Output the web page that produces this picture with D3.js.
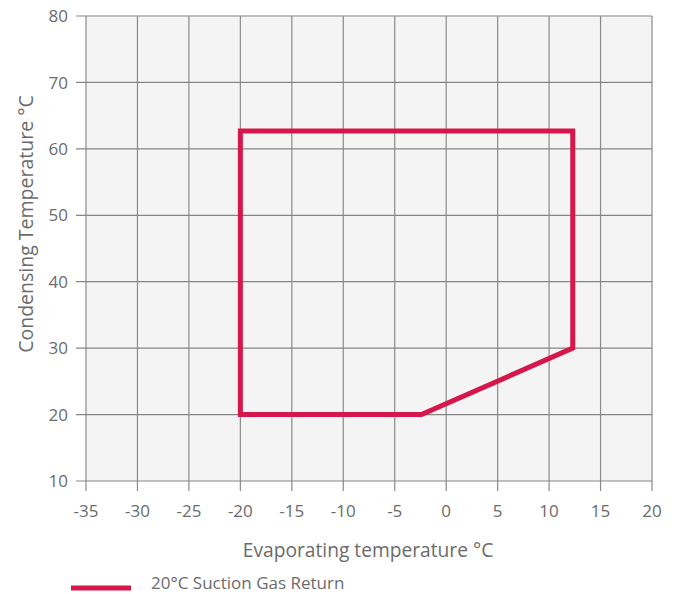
<!DOCTYPE html>
<html>
<head>
<meta charset="utf-8" />
<title>Operating envelope</title>
<style>
  body { margin: 0; background: #fff; }
  text { font-family: "Open Sans", "Noto Sans", sans-serif; fill: #6b6b6b; }
</style>
</head>
<body>
<script src="https://cdn.jsdelivr.net/npm/d3@7"></script>
<script>

    // envelope points (evaporating, condensing)
    var evapTemps = [-20, -20, 12.3, 12.3, -2.4];
    var condTemps = [20, 62.7, 62.7, 30, 20];

    var xTicks = [-35, -30, -25, -20, -15, -10, -5, 0, 5, 10, 15, 20];
    var yTicks = [10, 20, 30, 40, 50, 60, 70, 80];

    var seriesName = "20°C Suction Gas Return";
    var xTitle = "Evaporating temperature °C";
    var yTitle = "Condensing Temperature °C";

    var width = 678, height = 594;
    var margin = {left: 86, right: 26, top: 16, bottom: 113};
    var red = "#d5174b";

    var svg = d3.select("body").append("svg")
                .attr("width", width)
                .attr("height", height);

    var x = d3.scaleLinear()
              .domain([-35, 20])
              .range([margin.left, width - margin.right]);

    var y = d3.scaleLinear()
              .domain([10, 80])
              .range([height - margin.bottom, margin.top]);

    svg.append("rect")
       .attr("x", x(-35))
       .attr("y", y(80))
       .attr("width", x(20) - x(-35))
       .attr("height", y(10) - y(80))
       .attr("fill", "#f4f4f4");

    // grid
    svg.append("g")
       .selectAll("line")
       .data(xTicks)
       .enter()
       .append("line")
       .attr("x1", d => x(d)).attr("x2", d => x(d))
       .attr("y1", y(80)).attr("y2", y(10) + 10)
       .attr("stroke", "#8a8a8a")
       .attr("stroke-width", 1.2);

    svg.append("g")
       .selectAll("line")
       .data(yTicks)
       .enter()
       .append("line")
       .attr("y1", d => y(d)).attr("y2", d => y(d))
       .attr("x1", x(-35) - 10).attr("x2", x(20))
       .attr("stroke", "#858585")
       .attr("stroke-width", 1.2);

    // tick labels
    svg.append("g")
       .selectAll("text")
       .data(xTicks)
       .enter()
       .append("text")
       .attr("x", d => x(d))
       .attr("y", y(10) + 36)
       .attr("text-anchor", "middle")
       .style("font-size", "17px")
       .text(d => d);

    svg.append("g")
       .selectAll("text")
       .data(yTicks)
       .enter()
       .append("text")
       .attr("x", x(-35) - 18)
       .attr("y", d => y(d))
       .attr("dy", "0.36em")
       .attr("text-anchor", "end")
       .style("font-size", "17px")
       .text(d => d);

    // axis titles
    svg.append("text")
       .attr("x", 368)
       .attr("y", 557)
       .attr("text-anchor", "middle")
       .style("font-size", "19.2px")
       .text(xTitle);

    svg.append("text")
       .attr("transform", "translate(33,224) rotate(-90)")
       .attr("text-anchor", "middle")
       .style("font-size", "19.5px")
       .text(yTitle);

    // envelope
    var pts = evapTemps.map((d, i) => [d, condTemps[i]]);
    var line = d3.line()
                 .x(d => x(d[0]))
                 .y(d => y(d[1]))
                 .curve(d3.curveLinearClosed);

    svg.append("path")
       .attr("d", line(pts))
       .attr("fill", "none")
       .attr("stroke", red)
       .attr("stroke-width", 5)
       .attr("stroke-linejoin", "miter");

    // legend
    svg.append("line")
       .attr("x1", 71).attr("x2", 131)
       .attr("y1", 588).attr("y2", 588)
       .attr("stroke", red)
       .attr("stroke-width", 5);

    svg.append("text")
       .attr("x", 151)
       .attr("y", 589)
       .style("font-size", "17px")
       .text(seriesName);

</script>
</body>
</html>
